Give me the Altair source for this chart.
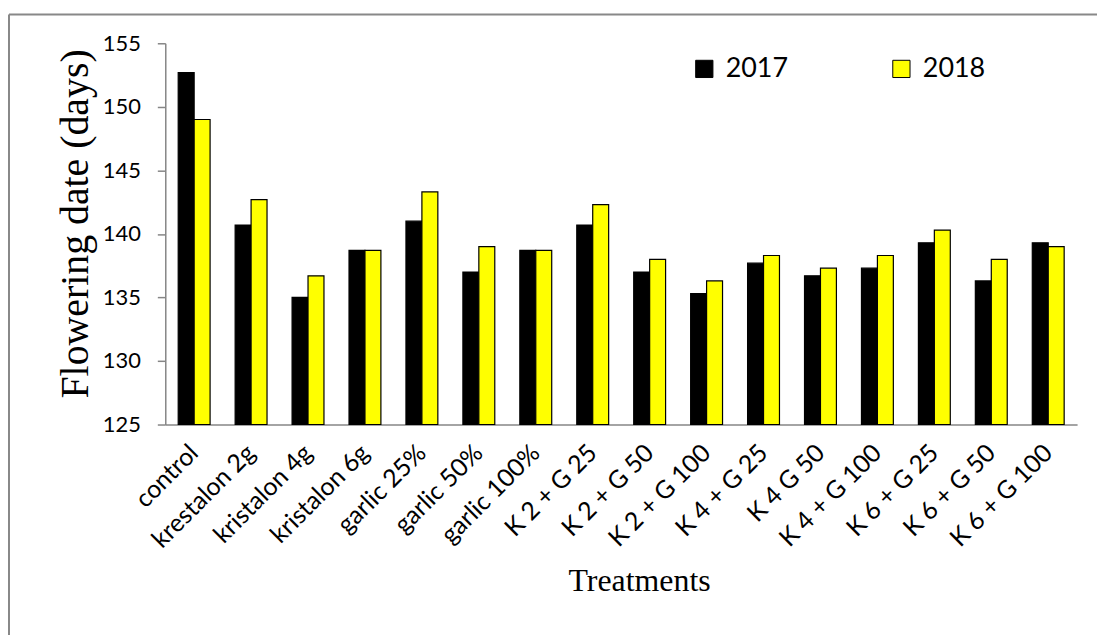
import altair as alt
import pandas as pd

treatments = ["control", "krestalon 2g", "kristalon 4g", "kristalon 6g", "garlic 25%",
              "garlic 50%", "garlic 100%", "K 2 + G 25", "K 2 + G 50", "K 2 + G 100",
              "K 4 + G 25", "K 4  G 50", "K 4 + G 100", "K 6 + G 25", "K 6 + G 50",
              "K 6 + G 100"]
v2017 = [152.7, 140.7, 135.0, 138.7, 141.0, 137.0, 138.7, 140.7, 137.0, 135.3,
         137.7, 136.7, 137.3, 139.3, 136.3, 139.3]
v2018 = [149.0, 142.7, 136.7, 138.7, 143.3, 139.0, 138.7, 142.3, 138.0, 136.3,
         138.3, 137.3, 138.3, 140.3, 138.0, 139.0]
years = ["2017", "2018"]
y_ticks = [125, 130, 135, 140, 145, 150, 155]

rows = []
for t, a, b in zip(treatments, v2017, v2018):
    rows.append({"Treatment": t, "Year": "2017", "Days": a})
    rows.append({"Treatment": t, "Year": "2018", "Days": b})
df = pd.DataFrame(rows)

W, H = 916, 383
AXIS_GRAY = "#868686"

bars = alt.Chart(df).mark_bar(stroke="black", strokeWidth=1.2).encode(
    x=alt.X("Treatment:N", sort=treatments,
            scale=alt.Scale(paddingInner=0.44, paddingOuter=0.227),
            axis=alt.Axis(title="Treatments", labelAngle=-45, labelAlign="right",
                          labelBaseline="middle", labelPadding=24, ticks=False,
                          grid=False,
                          labelFont="Lato", labelFontSize=25, labelColor="black",
                          labelLimit=300,
                          titleFont="Liberation Serif", titleFontSize=32,
                          titleFontWeight="normal", titleColor="black",
                          titleX=476, titleY=157, titleBaseline="middle",
                          titleAlign="center",
                          domainColor=AXIS_GRAY, domainWidth=1.5)),
    xOffset=alt.XOffset("Year:N", sort=years, scale=alt.Scale(paddingInner=0, paddingOuter=0)),
    y=alt.Y("Days:Q", scale=alt.Scale(domain=[125, 155], nice=False, zero=False),
            axis=alt.Axis(title="Flowering date (days)", values=y_ticks, grid=False,
                          tickSize=8, tickColor=AXIS_GRAY, tickWidth=1.5,
                          labelPadding=17, labelFont="Lato", labelFontSize=22,
                          labelColor="black",
                          titleFont="Liberation Serif", titleFontSize=40,
                          titleFontWeight="normal", titleColor="black",
                          titleX=-90, titleY=181, titleAngle=-90,
                          titleAlign="center", titleBaseline="middle",
                          domainColor=AXIS_GRAY, domainWidth=1.5)),
    y2=alt.datum(125),
    color=alt.Color("Year:N", sort=years,
                    scale=alt.Scale(domain=years, range=["#000000", "#FFFF00"]),
                    legend=alt.Legend(title=None, orient="none", legendX=528, legendY=12,
                                      direction="horizontal", columns=2,
                                      columnPadding=100, symbolType="square",
                                      symbolSize=300, symbolStrokeColor="black",
                                      symbolStrokeWidth=1, labelFont="Lato",
                                      labelFontSize=27, labelColor="black",
                                      labelOffset=8)),
)

frame_df = pd.DataFrame({"k": [0]})
top_line = alt.Chart(frame_df).mark_rule(color="#888888", strokeWidth=2).encode(
    x=alt.value(-157), x2=alt.value(W + 30), y=alt.value(-29))
left_line = alt.Chart(frame_df).mark_rule(color="#888888", strokeWidth=2).encode(
    x=alt.value(-157), y=alt.value(-29), y2=alt.value(H + 220))

chart = alt.layer(top_line, left_line, bars).properties(
    width=W, height=H,
    background="white",
    autosize=alt.AutoSizeParams(type="none"),
    padding={"left": 158, "top": 34, "right": 20, "bottom": 210},
).configure_view(stroke="white", strokeWidth=2, fill="white")

chart.save("out.html", embed_options={"renderer": "svg", "actions": False})
